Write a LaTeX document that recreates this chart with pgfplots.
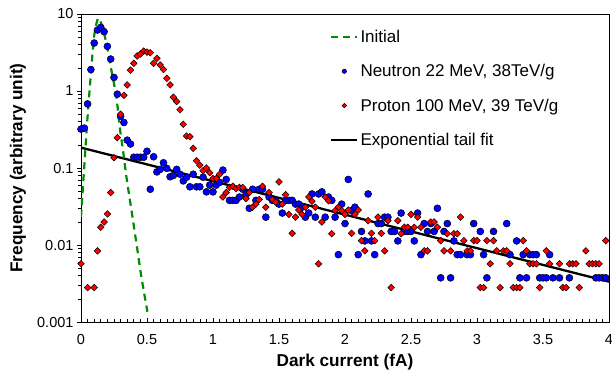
\documentclass[border=0pt]{standalone}
\usepackage{fontspec}
\setmainfont{Liberation Sans}
\usepackage{pgfplots}
\pgfplotsset{compat=1.18}
\usepackage{pgfplotstable}
\usetikzlibrary{calc}
\definecolor{dgreen}{RGB}{0,140,0}

\pgfplotstableread{
x y
0.000 0.023
0.023 0.094
0.048 0.42
0.073 1.53
0.099 5.07
0.129 8.8
0.160 7.0
0.192 4.17
0.230 1.87
0.268 0.84
0.293 0.344
0.318 0.171
0.344 0.077
0.382 0.0285
0.420 0.0105
0.457 0.0039
0.503 0.00136
}\initial

\pgfplotstableread{
x y
0.000 0.32
0.025 0.33
0.050 0.68
0.075 1.9
0.100 4.2
0.125 6.2
0.150 6.7
0.175 5.9
0.200 3.8
0.225 2.6
0.250 1.5
0.275 0.91
0.300 0.47
0.325 0.39
0.350 0.23
0.375 0.205
0.400 0.138
0.425 0.138
0.450 0.138
0.475 0.138
0.500 0.165
0.525 0.053
0.550 0.14
0.575 0.089
0.600 0.096
0.625 0.117
0.650 0.099
0.675 0.077
0.700 0.080
0.725 0.096
0.750 0.083
0.775 0.068
0.800 0.076
0.825 0.057
0.850 0.083
0.875 0.057
0.900 0.057
0.925 0.076
0.950 0.049
0.975 0.060
1.000 0.049
1.025 0.060
1.050 0.065
1.075 0.094
1.100 0.071
1.125 0.038
1.150 0.038
1.175 0.038
1.200 0.042
1.225 0.053
1.250 0.045
1.275 0.030
1.300 0.053
1.325 0.038
1.350 0.053
1.375 0.053
1.400 0.023
1.425 0.042
1.450 0.038
1.475 0.038
1.500 0.034
1.525 0.026
1.550 0.038
1.575 0.038
1.600 0.038
1.625 0.034
1.650 0.034
1.675 0.031
1.700 0.023
1.725 0.026
1.750 0.046
1.775 0.023
1.800 0.046
1.825 0.049
1.850 0.023
1.875 0.042
1.900 0.038
1.925 0.023
1.950 0.0075
1.975 0.034
2.000 0.019
2.025 0.071
2.050 0.028
2.075 0.031
2.100 0.0075
2.125 0.015
2.150 0.0113
2.175 0.046
2.200 0.0113
2.225 0.0075
2.250 0.019
2.275 0.019
2.300 0.023
2.325 0.023
2.350 0.015
2.375 0.015
2.400 0.0113
2.425 0.026
2.450 0.015
2.475 0.015
2.500 0.015
2.525 0.0113
2.550 0.026
2.575 0.0075
2.600 0.019
2.625 0.015
2.650 0.019
2.675 0.015
2.700 0.030
2.725 0.00375
2.750 0.015
2.775 0.019
2.800 0.00375
2.825 0.0113
2.850 0.0075
2.875 0.0075
2.925 0.0075
2.950 0.0075
2.975 0.019
3.025 0.015
3.050 0.0075
3.075 0.00375
3.125 0.015
3.225 0.019
3.250 0.0075
3.300 0.0113
3.325 0.00375
3.350 0.0075
3.375 0.00375
3.400 0.0075
3.425 0.0075
3.450 0.0075
3.475 0.00375
3.500 0.00375
3.525 0.00375
3.550 0.0075
3.575 0.00375
3.625 0.00375
3.700 0.00375
3.900 0.00375
3.925 0.00375
3.950 0.00375
3.975 0.00375
}\neutron

\pgfplotstableread{
x y
0.000 0.0057
0.050 0.0028
0.100 0.0028
0.125 0.0084
0.150 0.017
0.175 0.0199
0.200 0.0253
0.225 0.048
0.250 0.136
0.275 0.248
0.300 0.50
0.325 0.88
0.350 1.2
0.375 1.87
0.400 2.29
0.425 2.85
0.450 3.03
0.475 3.3
0.500 3.2
0.525 3.14
0.550 2.29
0.575 2.66
0.600 2.18
0.625 1.9
0.650 1.46
0.675 1.2
0.700 0.83
0.725 0.73
0.750 0.57
0.775 0.37
0.800 0.26
0.825 0.255
0.850 0.18
0.875 0.124
0.900 0.109
0.925 0.092
0.950 0.1
0.975 0.087
1.000 0.073
1.025 0.073
1.050 0.083
1.075 0.042
1.100 0.048
1.125 0.056
1.150 0.058
1.175 0.054
1.200 0.056
1.225 0.056
1.250 0.040
1.275 0.048
1.300 0.031
1.325 0.034
1.350 0.039
1.375 0.058
1.400 0.031
1.425 0.048
1.450 0.039
1.475 0.036
1.500 0.066
1.525 0.034
1.550 0.045
1.575 0.025
1.600 0.0142
1.625 0.023
1.650 0.0285
1.675 0.025
1.700 0.031
1.725 0.042
1.750 0.037
1.775 0.031
1.800 0.0057
1.825 0.0199
1.850 0.042
1.875 0.0376
1.900 0.014
1.925 0.028
1.950 0.031
1.975 0.028
2.000 0.025
2.025 0.0285
2.050 0.0142
2.075 0.025
2.100 0.0285
2.125 0.0114
2.150 0.0084
2.175 0.0207
2.200 0.0142
2.225 0.0114
2.250 0.023
2.275 0.0142
2.300 0.0084
2.325 0.0207
2.350 0.0028
2.400 0.0207
2.425 0.014
2.450 0.017
2.475 0.017
2.500 0.025
2.525 0.017
2.550 0.023
2.575 0.017
2.600 0.0084
2.625 0.0084
2.650 0.0199
2.675 0.0199
2.700 0.017
2.725 0.0114
2.750 0.0084
2.775 0.014
2.800 0.0084
2.825 0.014
2.850 0.014
2.875 0.023
2.900 0.0114
2.925 0.0084
2.950 0.0084
2.975 0.0114
3.000 0.0114
3.025 0.0028
3.050 0.0028
3.075 0.0114
3.100 0.0057
3.125 0.0114
3.150 0.0084
3.175 0.0028
3.200 0.0084
3.225 0.0084
3.250 0.0057
3.275 0.0028
3.300 0.0028
3.325 0.0028
3.350 0.0114
3.375 0.0084
3.400 0.0057
3.425 0.0057
3.450 0.0057
3.475 0.0028
3.525 0.0084
3.550 0.0057
3.625 0.0057
3.650 0.0028
3.675 0.0028
3.700 0.0057
3.725 0.0057
3.750 0.0057
3.775 0.0028
3.825 0.0084
3.850 0.0057
3.875 0.0057
3.900 0.0057
3.925 0.0057
3.975 0.0114
}\proton

\begin{document}
\begin{tikzpicture}
\begin{axis}[
  scale only axis,
  width=528pt, height=308pt,
  ymode=log,
  xmin=0, xmax=4, ymin=0.001, ymax=10,
  xtick={0,0.5,1,1.5,2,2.5,3,3.5,4},
  xticklabels={0,0.5,1,1.5,2,2.5,3,3.5,4},
  minor x tick num=9,
  ytick={0.001,0.01,0.1,1,10},
  yticklabels={0.001,0.01,0.1,1,10},
  minor ytick={0.002,0.003,0.004,0.005,0.006,0.007,0.008,0.009,
               0.02,0.03,0.04,0.05,0.06,0.07,0.08,0.09,
               0.2,0.3,0.4,0.5,0.6,0.7,0.8,0.9,
               2,3,4,5,6,7,8,9},
  xtick pos=bottom, ytick pos=left,
  xtick align=inside, ytick align=outside,
  major tick length=4pt, minor tick length=3pt,
  tick style={black, line width=0.6pt},
  axis line style={black, line width=0.8pt},
  tick label style={font=\fontsize{14.5}{16}\selectfont},
  xticklabel style={yshift=-9pt},
  xlabel={Dark current (fA)},
  ylabel={Frequency (arbitrary unit)},
  every axis x label/.style={at={(axis description cs:0.5,-0.13)}, anchor=center, font=\fontsize{17.2}{19}\selectfont\bfseries},
  every axis y label/.style={at={(axis description cs:-0.1193,0.5)}, anchor=center, rotate=90, font=\fontsize{17.2}{19}\selectfont\bfseries},
  legend image code/.code={\draw[mark repeat=2,mark phase=2,#1] plot coordinates {(0pt,0pt) (13pt,0pt) (26pt,0pt)};},
  legend style={at={(axis description cs:0.4716,0.955)}, anchor=north west,
    draw=none, fill=none, font=\fontsize{17}{19}\selectfont,
    row sep=16.5pt, inner sep=0pt},
  legend cell align=left,
]
\addplot[black, line width=2.3pt, forget plot] coordinates {(0,0.184) (4,0.00334)};
\addplot[dgreen, line width=2.2pt, dash pattern=on 7pt off 5pt, smooth, tension=0.4] table[x=x,y=y]{\initial};
\addlegendentry{Initial}
\addplot[only marks, mark=*, mark size=3.5pt, mark options={draw=black, fill=blue, line width=0.5pt},
  legend image post style={mark size=2.2pt}] table[x=x,y=y]{\neutron};
\addlegendentry{Neutron 22 MeV, 38TeV/g}
\addplot[only marks, mark=square*, mark size=2.35pt, mark options={draw=black, fill=red, line width=0.5pt, rotate=45},
  legend image post style={mark size=1.6pt}] table[x=x,y=y]{\proton};
\addlegendentry{Proton 100 MeV, 39 TeV/g}
\addlegendimage{black, line width=2.3pt}
\addlegendentry{Exponential tail fit}
\end{axis}
\pgfresetboundingbox
\path[use as bounding box] ($(current axis.south west)+(-81pt,-52pt)$) rectangle ($(current axis.north east)+(3pt,14pt)$);
\end{tikzpicture}
\end{document}
